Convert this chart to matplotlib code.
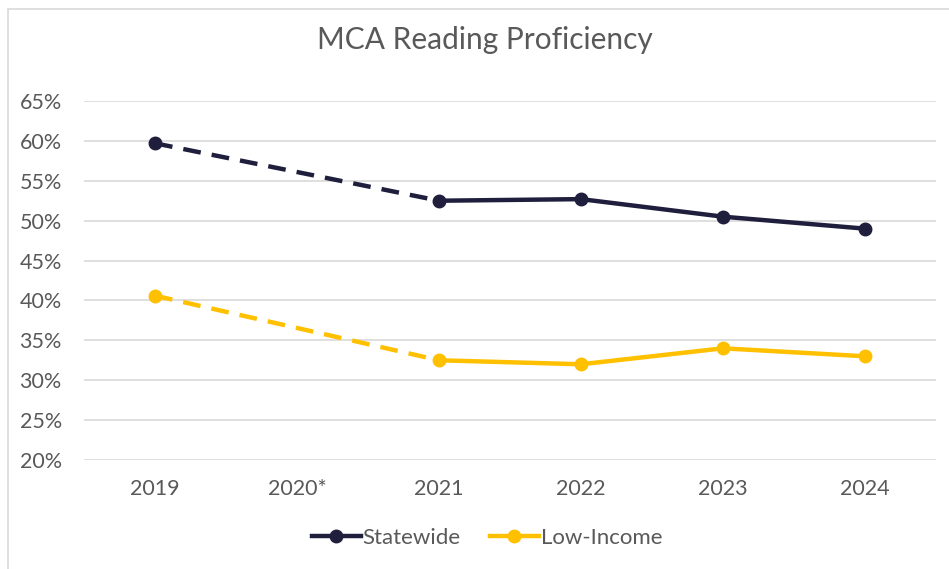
import numpy as np
import matplotlib
matplotlib.use("Agg")
import matplotlib.pyplot as plt
from matplotlib.patches import Rectangle
from matplotlib.lines import Line2D

years = ["2019", "2020*", "2021", "2022", "2023", "2024"]
statewide = [0.597, np.nan, 0.525, 0.527, 0.505, 0.490]
low_income = [0.406, np.nan, 0.325, 0.320, 0.340, 0.330]

navy = "#1f1e3d"
gold = "#ffc000"
grey_text = "#595959"

plt.rcParams['font.family'] = ['Lato', 'DejaVu Sans']

fig = plt.figure(figsize=(9.49, 5.69), dpi=100)
ax = fig.add_axes([84 / 949, 1 - 460 / 569, (936 - 84) / 949, (460 - 101) / 569])

# outer chart border
fig.patches.append(Rectangle((8 / 949, -0.1), 1.2, 1.1 - 9 / 569, transform=fig.transFigure,
                             fill=False, edgecolor="#d9d9d9", lw=1.2))

x = np.arange(len(years))

for vals, col in [(statewide, navy), (low_income, gold)]:
    v = np.array(vals)
    # dashed bridge over the missing 2020 value
    ax.plot([x[0], x[2]], [v[0], v[2]], color=col, lw=3.2, dashes=(4, 2.5),
            dash_capstyle="butt", zorder=3)
    ax.plot(x[2:], v[2:], color=col, lw=3.2, solid_capstyle="round", zorder=3)
    ok = ~np.isnan(v)
    ax.plot(x[ok], v[ok], "o", color=col, ms=9, zorder=4)

ax.set_xlim(-0.5, len(years) - 0.5)
ax.set_ylim(0.20, 0.65)
ticks = np.arange(0.20, 0.651, 0.05)
ax.set_yticks(ticks)
ax.set_yticklabels(["{:.0f}%".format(t * 100) for t in ticks])
ax.set_xticks(x)
ax.set_xticklabels(years)
ax.grid(axis="y", color="#d9d9d9", lw=1.2)
ax.set_axisbelow(True)
for s in ax.spines.values():
    s.set_visible(False)
ax.tick_params(length=0, labelsize=15.5, colors=grey_text)
ax.tick_params(axis="y", pad=16)
ax.tick_params(axis="x", pad=14)

fig.text(485 / 949, 1 - 40 / 569, "MCA Reading Proficiency", ha="center", va="center",
         fontsize=21.5, color=grey_text)

handles = [Line2D([], [], color=navy, lw=3.2, marker="o", ms=9),
           Line2D([], [], color=gold, lw=3.2, marker="o", ms=9)]
fig.legend(handles, ["Statewide", "Low-Income"], loc="center", bbox_to_anchor=(487 / 949, 1 - 538 / 569),
           ncol=2, frameon=False, fontsize=16, labelcolor=grey_text, handlelength=2.2,
           handletextpad=0.1, columnspacing=1.3)

plt.savefig("out.png", dpi=100)
